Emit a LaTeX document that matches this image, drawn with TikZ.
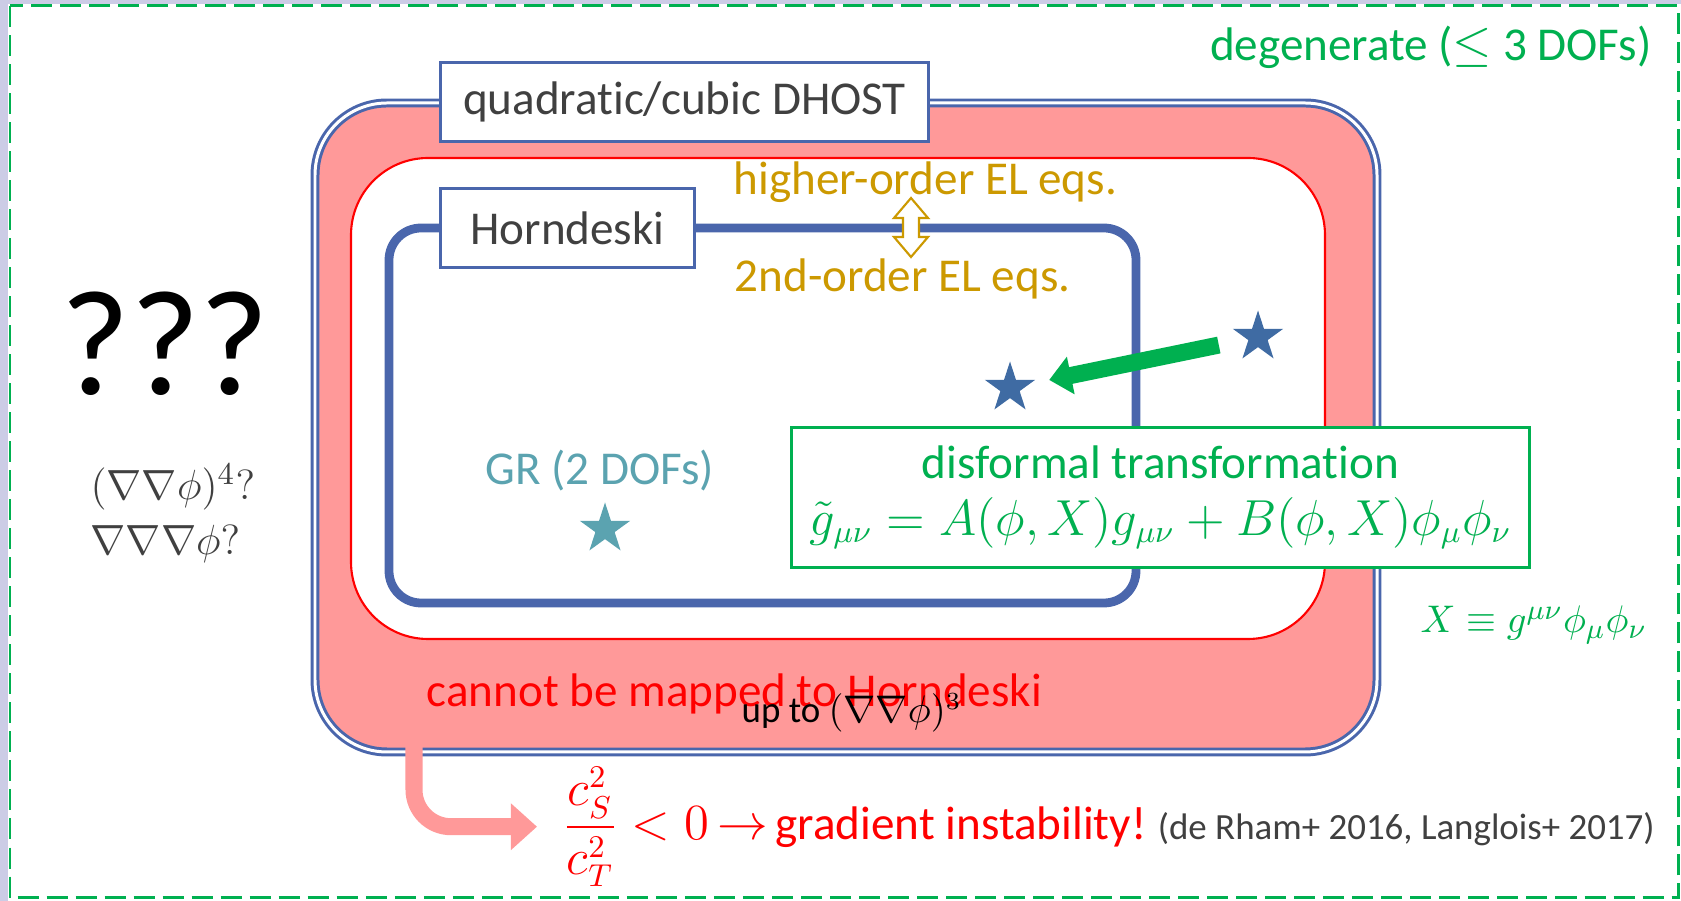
\documentclass[tikz,border=0pt]{standalone}
\usepackage{fontspec}
\setmainfont{Carlito}[Ligatures=CommonOff]
\usepackage{amsmath,amssymb}
\usetikzlibrary{arrows.meta,shapes.geometric,positioning,calc}

\definecolor{frameblue}{HTML}{4A66AC}
\definecolor{lavender}{HTML}{CCCCE6}
\definecolor{dgreen}{HTML}{00B050}
\definecolor{softpink}{HTML}{FF9999}
\definecolor{eqgold}{HTML}{CC9900}
\definecolor{starblue}{HTML}{3F6BA3}
\definecolor{grteal}{HTML}{5BA3B0}
\definecolor{txtgray}{HTML}{404040}
\newcommand{\lblfont}{\fontsize{13.4}{16}\selectfont}
\newcommand{\smallfont}{\fontsize{10.5}{12}\selectfont}
% keeps t and i apart (no ti ligature)
\newcommand{\tI}{t\kern0pt i}

\begin{document}
\begin{tikzpicture}[x=0.01cm, y=-0.01cm,
  lbl/.style={inner sep=0pt, font=\lblfont},
  tagbox/.style={draw=frameblue, line width=0.85pt, fill=white, text=txtgray,
    font=\lblfont, minimum height=0.78cm, inner sep=0pt},
  starmark/.style={star, star points=5, star point ratio=2.618,
    minimum size=0.53cm, inner sep=0pt}]
\useasboundingbox (0,0) rectangle (1681,901);
% Background
\fill[lavender] (0,0) rectangle (1681,901);
\fill[white] (8,4) rectangle (1681,901);
\draw[dgreen, line width=0.85pt, dash pattern=on 0.21cm off 0.08cm] (10,6) rectangle (1678,898);
\node[lbl, text=dgreen, anchor=base east] (degen) at (1652,61) {degenerate ($\leq$ 3 DOFs)};
% DHOST region
\draw[frameblue, line width=0.85pt, double=white, double distance=0.85pt, fill=softpink,
  rounded corners=0.72cm] (315,103) rectangle (1377,752);
\draw[red, line width=0.6pt, fill=white, rounded corners=0.77cm] (351,158) rectangle (1325,639);
% Horndeski region
\draw[frameblue, line width=2.5pt, rounded corners=0.32cm] (389,228) rectangle (1136,603);
\node[tagbox, minimum width=4.87cm] (dhost) at (684.5,102) {quadra\tI c/cubic DHOST};
\node[tagbox, minimum width=2.53cm] (horn) at (567.5,228) {Horndeski};
% Order of the EL equations
\node[lbl, text=eqgold, anchor=base west] (hoel) at (733,195) {higher-order EL eqs.};
\node[lbl, text=eqgold, anchor=base west] (soel) at (734,292) {2nd-order EL eqs.};
\draw[eqgold, line width=0.6pt, fill=white] (911,198) -- ++(17,20) -- ++(-9,0) -- ++(0,19)
  -- ++(9,0) -- ++(-17,20) -- ++(-17,-20) -- ++(9,0) -- ++(0,-19) -- ++(-9,0) -- cycle;
% GR
\node[lbl, text=grteal, anchor=base] (grlbl) at (600,485) {GR (2 DOFs)};
\node[starmark, fill=grteal] (gr) at (605,529) {};
% Disformal map
\node[starmark, fill=starblue] (sA) at (1010,388) {};
\node[starmark, fill=starblue] (sB) at (1258,337) {};
\draw[dgreen, line width=0.17cm, -{Triangle[width=0.37cm,length=0.22cm]},
  shorten <=0.4cm, shorten >=0.4cm] (sB.center) -- (sA.center);
\node[draw=dgreen, line width=0.85pt, fill=white, text=dgreen, font=\lblfont, align=center,
  minimum width=7.37cm, minimum height=1.4cm, inner sep=0pt] (disf) at (1160.5,497.5)
  {disformal transforma\tI on\\$\tilde g_{\mu\nu} = A(\phi,X)g_{\mu\nu} + B(\phi,X)\phi_\mu\phi_\nu$};
\node[lbl, text=dgreen, anchor=base west, font=\fontsize{11.4}{13}\selectfont] (xdef) at (1420,633)
  {$X \equiv g^{\mu\nu}\phi_\mu\phi_\nu$};
% Beyond
\node[lbl, anchor=base, font=\fontsize{42.7}{48}\selectfont] (qq) at (165,395) {???};
\node[lbl, text=txtgray, anchor=base west, font=\fontsize{13}{15}\selectfont] (nn4) at (90,500) {$(\nabla\nabla\phi)^4?$};
\node[lbl, text=txtgray, anchor=base west, font=\fontsize{13}{15}\selectfont] (nnn) at (90,555) {$\nabla\nabla\nabla\phi?$};
% Instability
\node[lbl, text=red, anchor=base west] (nomap) at (426,707) {cannot be mapped to Horndeski};
\node[lbl, anchor=base west, font=\smallfont] (upto) at (741,723) {up to $(\nabla\nabla\phi)^3$};
\node[lbl, text=red, anchor=base west] (crit) at (562,840)
  {$\dfrac{c_S^2}{c_T^2}<0$\,$\rightarrow$\,gradient instability!};
\node[lbl, text=txtgray, anchor=base west, font=\smallfont] (cite) at ([xshift=0.1cm]crit.base east)
  {(de Rham+ 2016, Langlois+ 2017)};
\coordinate (pk) at (414,745);
\draw[softpink, line width=0.17cm, rounded corners=0.37cm, -{Triangle[width=0.45cm,length=0.26cm]},
  shorten >=0.25cm] (pk) |- (crit.west);
\end{tikzpicture}
\end{document}
